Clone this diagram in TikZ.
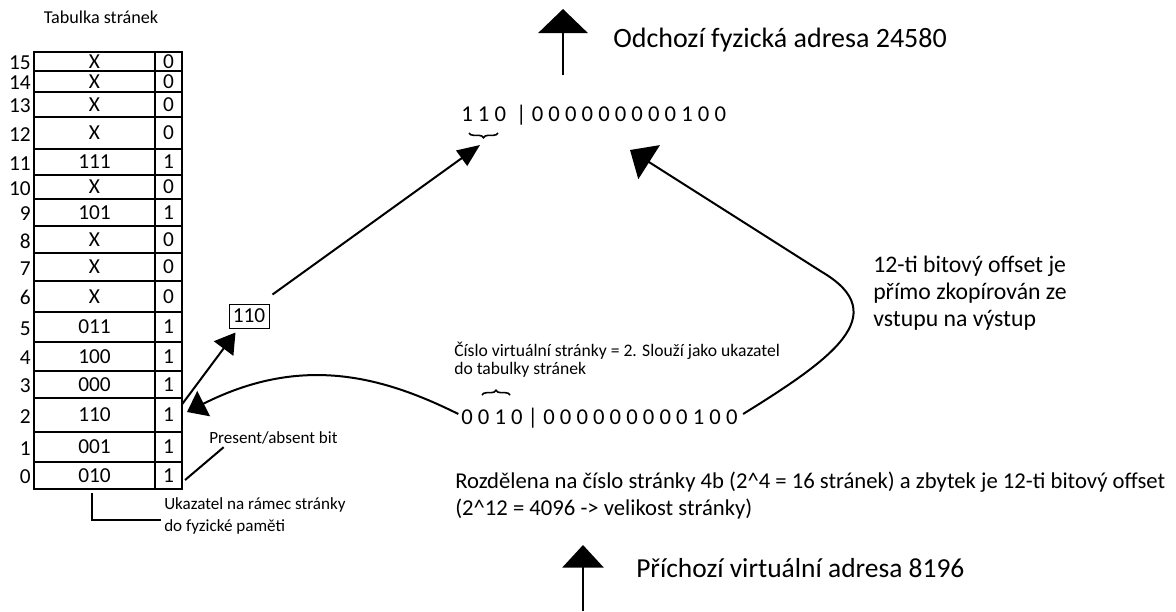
\documentclass[tikz,border=0pt]{standalone}
\usepackage{fontspec}
\setmainfont{Carlito}
\usetikzlibrary{arrows.meta,positioning,decorations.pathreplacing}

\begin{document}
\begin{tikzpicture}
  [x=0.75pt, y=-0.75pt, font=\fontsize{12.8}{14}\selectfont,
  % STYLES
  % The cell style draws one box of the page table
  cell/.style={draw, line width=1.5pt, inner sep=0pt, outer sep=0pt, font=\fontsize{16}{18}\selectfont},
  % The rowidx style is used for the page numbers left of the table
  rowidx/.style={inner sep=0pt, font=\fontsize{16}{18}\selectfont},
  % The note style is used for all explanations
  note/.style={anchor=west, align=left, inner sep=0pt},
  % The bits style writes an address bit by bit
  bits/.style={anchor=west, inner sep=0pt, font=\fontsize{17}{19}\selectfont},
  % The link style is used for arrows and pointer lines
  link/.style={line width=1.5pt},
  bighead/.style={-{Triangle[length=18pt,width=37pt]}},
  brace/.style={decorate, decoration={brace, amplitude=3.5pt}, line width=1.2pt}]
  \useasboundingbox (0,0) rectangle (1176,611);
  % Page table
  \node [font=\fontsize{13.6}{15}\selectfont] (table-title) at (101,17) {Tabulka stránek};
  \foreach \i/\ya/\yb/\fr/\pb in {15/52/71/X/0, 14/71/92/X/0, 13/92/117/X/0, 12/117/149/X/0,
      11/149/175/111/1, 10/175/199/X/0, 9/199/226/101/1, 8/226/253/X/0, 7/253/281/X/0,
      6/281/312/X/0, 5/312/342/011/1, 4/342/371/100/1, 3/371/398/000/1, 2/398/432/110/1,
      1/432/462/001/1, 0/462/489/010/1} {
    \pgfmathsetmacro\yc{(\ya+\yb)/2}
    \pgfmathsetmacro\hh{(\yb-\ya)*0.75}
    \node [cell, minimum width=90.75pt, minimum height=\hh pt] (frame\i) at (94.5,\yc) {\fr};
    \node [cell, minimum width=20.25pt, minimum height=\hh pt, right=0pt of frame\i] (bit\i) {\pb};
    \node [rowidx, left=2.25pt of frame\i, yshift=-1pt] (idx\i) {\i};
  }
  \node [note] (present-note) at (209,438) {Present/absent bit};
  \node [note, font=\fontsize{12.8}{16.5}\selectfont] (frame-note) at (164,516) {Ukazatel na rámec stránky\\do fyzické paměti};
  \node [draw, line width=0.75pt, inner sep=0pt, minimum width=30pt, minimum height=18pt,
    font=\fontsize{16}{18}\selectfont] (copied) at (249,316) {110};
  % Addresses
  \node [note, font=\fontsize{21}{23}\selectfont] (out-label) at (613,40) {Odchozí fyzická adresa 24580};
  \node [bits] (paddr) at (461,115) {1 1 0 ~| 0 0 0 0 0 0 0 0 0 1 0 0};
  \node [note, font=\fontsize{13.2}{13.5}\selectfont] (vpn-note) at (454,360) {Číslo virtuální stránky = 2. Slouží jako ukazatel\\do tabulky stránek};
  \node [bits] (vaddr) at (461,418) {0 0 1 0 | 0 0 0 0 0 0 0 0 0 1 0 0};
  \node [note, font=\fontsize{17.8}{20.25}\selectfont] (offset-note) at (873,293) {12-ti bitový offset je\\přímo zkopírován ze\\vstupu na výstup};
  \node [note, font=\fontsize{17}{20.25}\selectfont] (split-note) at (455,496) {Rozdělena na číslo stránky 4b (2\textasciicircum4 = 16 stránek) a zbytek je 12-ti bitový offset\\(2\textasciicircum12 = 4096 -> velikost stránky)};
  \node [note, font=\fontsize{20.6}{23}\selectfont] (in-label) at (636,568) {Příchozí virtuální adresa 8196};
  \coordinate (out-tail) at (563,75);
  \coordinate (out-tip) at (563,9);
  \coordinate (in-tail) at (583,611);
  \coordinate (in-tip) at (583,545);
  \coordinate (pfn-in) at (480,145);
  \coordinate (offset-in) at (630,150);
  % Braces
  \draw [brace] (498,133) -- (469,133);
  \draw [brace] (482,395) -- (510,395);
  % Arrows and pointers
  \draw [link, bighead] (out-tail) -- (out-tip);
  \draw [link, -{Triangle[length=17pt,width=31pt]}] (in-tail) -- (in-tip);
  \draw [link, -{Triangle[length=15pt,width=18pt]}] ([yshift=8pt]bit2.east) -- ([xshift=5.25pt,yshift=-3pt]copied.south west);
  \draw [link, -{Triangle[length=17pt,width=14pt]}] ([xshift=2.25pt,yshift=6.75pt]copied.north east) -- (pfn-in);
  \draw [link, -{Triangle[length=14pt,width=21pt]}] ([xshift=-2pt,yshift=3pt]vaddr.west)
    .. controls (380,375) and (300,355) .. ([xshift=3.75pt,yshift=2.25pt]bit2.east);
  \draw [link, -{Triangle[length=17pt,width=30pt]}] ([xshift=4pt,yshift=3pt]vaddr.east)
    .. controls (830,360) and (895,315) .. (822,272) -- (offset-in);
  \draw [link] ([xshift=2.25pt,yshift=-3.4pt]bit0.east) -- ([xshift=11pt,yshift=-2pt]present-note.south west);
  \draw [link] ([xshift=-1.9pt,yshift=-3pt]frame0.south) |- ([xshift=-2.5pt,yshift=-3pt]frame-note.west);
\end{tikzpicture}
\end{document}
